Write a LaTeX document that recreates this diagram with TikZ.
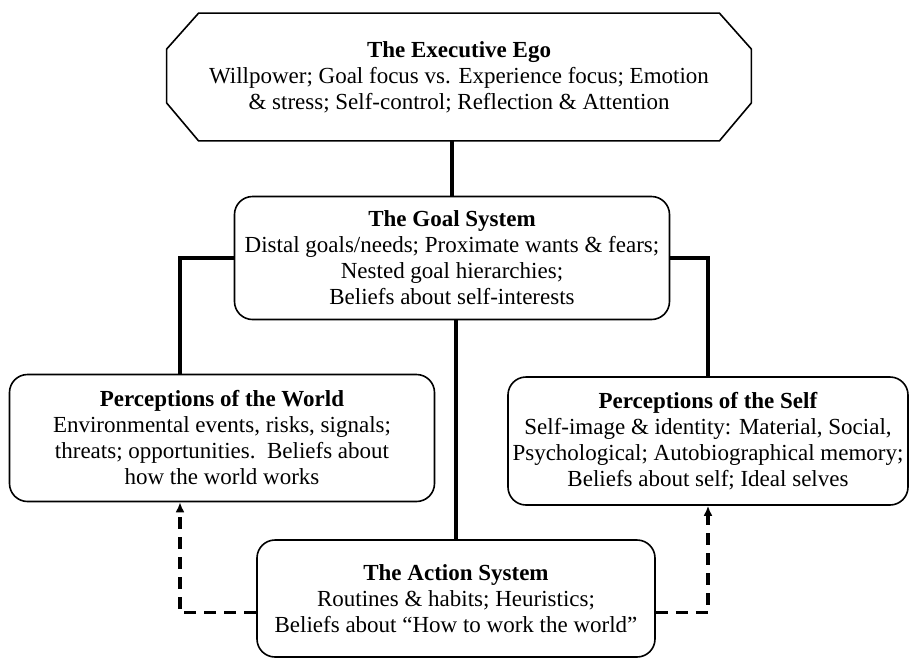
\documentclass[tikz,border=0pt]{standalone}
\usepackage{fontspec}
\setmainfont{Liberation Serif}
\usetikzlibrary{arrows.meta,positioning}

\begin{document}
\begin{tikzpicture}[x=0.5pt,y=-0.5pt, every node/.style={font=\fontsize{11.5}{13}\selectfont,align=center},
  panel/.style={draw,line width=0.8pt,rounded corners=9pt,inner sep=0pt},
  link/.style={line width=1.6pt},
  feedback/.style={line width=1.6pt,dash pattern=on 6pt off 4pt,-{Latex[length=5pt,width=4.5pt]}}]
  \useasboundingbox (0,0) rectangle (918,661);

  % executive ego, octagon drawn round a plain node
  \node[minimum width=292pt,minimum height=63.5pt,inner sep=0pt] (ego) at (459,77)
    {\textbf{The Executive Ego}\\Willpower; Goal focus vs. Experience focus; Emotion\\\& stress; Self-control; Reflection \& Attention};
  \draw[line width=0.8pt] ([xshift=16pt]ego.north west) -- ([xshift=-16pt]ego.north east)
    -- ([yshift=-18pt]ego.north east) -- ([yshift=19pt]ego.south east)
    -- ([xshift=-16pt]ego.south east) -- ([xshift=16pt]ego.south west)
    -- ([yshift=19pt]ego.south west) -- ([yshift=-18pt]ego.north west) -- cycle;

  \node[panel,minimum width=217.5pt,minimum height=61.5pt] (goal) at (452,258)
    {\textbf{The Goal System}\\Distal goals/needs; Proximate wants \& fears;\\Nested goal hierarchies;\\Beliefs about self-interests};
  \node[panel,minimum width=212.5pt,minimum height=63.5pt] (world) at (222,438)
    {\textbf{Perceptions of the World}\\Environmental events, risks, signals;\\threats; opportunities.\ \ Beliefs about\\how the world works};
  \node[panel,minimum width=200pt,minimum height=64pt] (self) at (708,441)
    {\textbf{Perceptions of the Self}\\Self-image \& identity: Material, Social,\\Psychological; Autobiographical memory;\\Beliefs about self; Ideal selves};
  \node[panel,minimum width=199pt,minimum height=58.5pt] (action) at (456,598.5)
    {\textbf{The Action System}\\Routines \& habits; Heuristics;\\Beliefs about ``How to work the world''};

  \draw[link] (goal.north) -- (goal.north |- ego.south);
  \draw[link] (goal.west) -| ([xshift=-21pt]world.north);
  \draw[link] (goal.east) -| (self.north);
  \draw[link] (action.north |- goal.south) -- (action.north);

  \draw[feedback] ([yshift=-7pt]action.west) -| ([xshift=-21pt]world.south);
  \draw[feedback] ([yshift=-7pt]action.east) -| (self.south);
\end{tikzpicture}
\end{document}
